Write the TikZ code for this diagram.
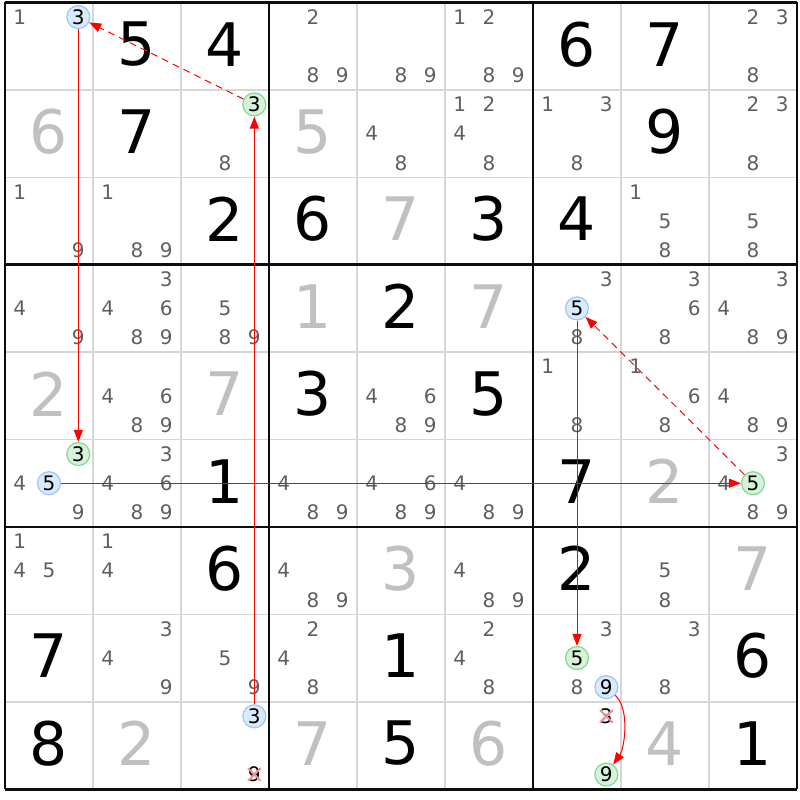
\documentclass[tikz,border=0pt]{standalone}
\usepackage{fontspec}
\setmainfont{DejaVu Sans}
\usetikzlibrary{arrows.meta}
\definecolor{candgray}{HTML}{5F5F5F}
\definecolor{givgray}{HTML}{C0C0C0}
\definecolor{thingray}{HTML}{D6D6D6}
\definecolor{bluefill}{HTML}{D8EAFB}
\definecolor{blueline}{HTML}{9CC8F2}
\definecolor{greenfill}{HTML}{D6F2D8}
\definecolor{greenline}{HTML}{84D894}
\definecolor{linkred}{HTML}{FF0000}
\definecolor{crosspink}{HTML}{F28C98}
\tikzset{
  cand/.style={inner sep=0pt, text=candgray, font=\fontsize{20}{20}\selectfont},
  candx/.style={cand, text=black},
  candblue/.style={cand, text=black, circle, minimum size=23pt, draw=blueline, fill=bluefill, line width=1.2pt},
  candgreen/.style={cand, text=black, circle, minimum size=23pt, draw=greenline, fill=greenfill, line width=1.2pt},
  bigblack/.style={inner sep=0pt, font=\fontsize{60}{60}\selectfont, text=black},
  biggray/.style={bigblack, text=givgray},
  link/.style={draw=linkred, line width=1pt, -{Triangle[length=12pt,width=9pt]}},
  weaklink/.style={link, dash pattern=on 7pt off 5pt},
  crossmark/.style={draw=crosspink, line width=2pt, line cap=round},
  thinline/.style={draw=thingray, line width=1.6pt},
  thickline/.style={draw=black!95, line width=2.8pt},
}
\newcommand\setcpos[3]{%
  \pgfmathtruncatemacro\kk{mod(#3-1,3)}%
  \pgfmathtruncatemacro\mm{div(#3-1,3)}%
  \pgfmathsetmacro\px{5+88*(#2-1)+44+(\kk-1)*29.33}%
  \pgfmathsetmacro\py{2.5+87.4*(#1-1)+43.7+(\mm-1)*29.13}%
}
\newcommand\cands[3]{%
  \foreach \d in {#3} {%
    \setcpos{#1}{#2}{\d}%
    \node[cand] (n-#1-#2-\d) at (\px,\py) {\d};
  }%
}
\newcommand\hcand[4]{%
  \setcpos{#1}{#2}{#3}%
  \node[#4] (n-#1-#2-#3) at (\px,\py) {#3};
}
\newcommand\bigd[4]{%
  \pgfmathsetmacro\px{5+88*(#2-1)+44}%
  \pgfmathsetmacro\py{2.5+87.4*(#1-1)+43.7-2}%
  \node[#4] (b-#1-#2) at (\px,\py) {#3};
}
\begin{document}
\begin{tikzpicture}[x=1pt,y=-1pt]
\useasboundingbox (0,0) rectangle (800,800);
\fill[white] (0,0) rectangle (800,800);
% grid
\foreach \i in {1,2,4,5,7,8} {
  \draw[thinline] (5+88*\i,2.5) -- (5+88*\i,789.1);
  \draw[thinline] (5,2.5+87.4*\i) -- (797,2.5+87.4*\i);
}
\foreach \i in {0,3,6,9} {
  \draw[thickline] (5+88*\i,2.5) -- (5+88*\i,789.1);
  \draw[thickline] (5,2.5+87.4*\i) -- (797,2.5+87.4*\i);
}
% big digits
\bigd{1}{2}{5}{bigblack} \bigd{1}{3}{4}{bigblack} \bigd{1}{7}{6}{bigblack} \bigd{1}{8}{7}{bigblack}
\bigd{2}{1}{6}{biggray} \bigd{2}{2}{7}{bigblack} \bigd{2}{4}{5}{biggray} \bigd{2}{8}{9}{bigblack}
\bigd{3}{3}{2}{bigblack} \bigd{3}{4}{6}{bigblack} \bigd{3}{5}{7}{biggray} \bigd{3}{6}{3}{bigblack} \bigd{3}{7}{4}{bigblack}
\bigd{4}{4}{1}{biggray} \bigd{4}{5}{2}{bigblack} \bigd{4}{6}{7}{biggray}
\bigd{5}{1}{2}{biggray} \bigd{5}{3}{7}{biggray} \bigd{5}{4}{3}{bigblack} \bigd{5}{6}{5}{bigblack}
\bigd{6}{3}{1}{bigblack} \bigd{6}{7}{7}{bigblack} \bigd{6}{8}{2}{biggray}
\bigd{7}{3}{6}{bigblack} \bigd{7}{5}{3}{biggray} \bigd{7}{7}{2}{bigblack} \bigd{7}{9}{7}{biggray}
\bigd{8}{1}{7}{bigblack} \bigd{8}{5}{1}{bigblack} \bigd{8}{9}{6}{bigblack}
\bigd{9}{1}{8}{bigblack} \bigd{9}{2}{2}{biggray} \bigd{9}{4}{7}{biggray} \bigd{9}{5}{5}{bigblack}
\bigd{9}{6}{6}{biggray} \bigd{9}{8}{4}{biggray} \bigd{9}{9}{1}{bigblack}
% candidates
\cands{1}{1}{1} \cands{1}{4}{2,8,9} \cands{1}{5}{8,9} \cands{1}{6}{1,2,8,9} \cands{1}{9}{2,3,8}
\cands{2}{3}{8} \cands{2}{5}{4,8} \cands{2}{6}{1,2,4,8} \cands{2}{7}{1,3,8} \cands{2}{9}{2,3,8}
\cands{3}{1}{1,9} \cands{3}{2}{1,8,9} \cands{3}{8}{1,5,8} \cands{3}{9}{5,8}
\cands{4}{1}{4,9} \cands{4}{2}{3,4,6,8,9} \cands{4}{3}{5,8,9} \cands{4}{7}{3,8} \cands{4}{8}{3,6,8} \cands{4}{9}{3,4,8,9}
\cands{5}{2}{4,6,8,9} \cands{5}{5}{4,6,8,9} \cands{5}{7}{1,8} \cands{5}{8}{1,6,8} \cands{5}{9}{4,8,9}
\cands{6}{1}{4,9} \cands{6}{2}{3,4,6,8,9} \cands{6}{4}{4,8,9} \cands{6}{5}{4,6,8,9} \cands{6}{6}{4,8,9} \cands{6}{9}{3,4,8,9}
\cands{7}{1}{1,4,5} \cands{7}{2}{1,4} \cands{7}{4}{4,8,9} \cands{7}{6}{4,8,9} \cands{7}{8}{5,8}
\cands{8}{2}{3,4,9} \cands{8}{3}{5,9} \cands{8}{4}{2,4,8} \cands{8}{6}{2,4,8} \cands{8}{7}{3,8} \cands{8}{8}{3,8}
% crossed-out candidates
\hcand{9}{3}{9}{candx} \hcand{9}{7}{3}{candx}
\foreach \nn in {n-9-3-9,n-9-7-3} {
  \draw[crossmark] ([shift={(-6,-6)}]\nn.center) -- ([shift={(6,6)}]\nn.center);
  \draw[crossmark] ([shift={(-6,6)}]\nn.center) -- ([shift={(6,-6)}]\nn.center);
}
% highlighted candidates
\hcand{1}{1}{3}{candblue} \hcand{9}{3}{3}{candblue} \hcand{6}{1}{5}{candblue}
\hcand{4}{7}{5}{candblue} \hcand{8}{7}{9}{candblue}
\hcand{2}{3}{3}{candgreen} \hcand{6}{1}{3}{candgreen} \hcand{6}{9}{5}{candgreen}
\hcand{8}{7}{5}{candgreen} \hcand{9}{7}{9}{candgreen}
% links
\draw[link] (n-1-1-3) -- (n-6-1-3);
\draw[link] (n-9-3-3) -- (n-2-3-3);
\draw[weaklink] (n-2-3-3) -- (n-1-1-3);
\draw[link] (n-6-1-5) -- (n-6-9-5);
\draw[weaklink] (n-6-9-5) -- (n-4-7-5);
\draw[link] (n-4-7-5) -- (n-8-7-5);
\draw[link] (n-8-7-9) .. controls +(24,22) and +(18,-26) .. (n-9-7-9);
\end{tikzpicture}
\end{document}
